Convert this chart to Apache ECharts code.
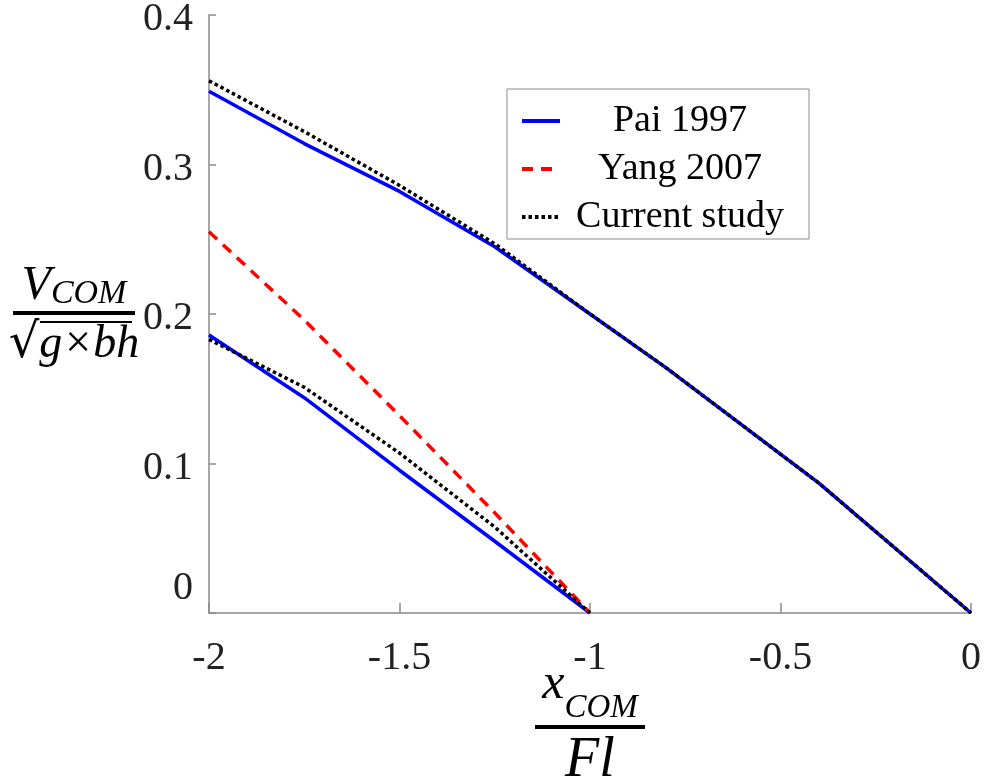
<!DOCTYPE html>
<html>
<head>
<meta charset="utf-8">
<script src="https://cdn.jsdelivr.net/npm/echarts@6/dist/echarts.min.js"></script>
<style>
  html, body { margin: 0; padding: 0; background: #fff; }
  #chart { width: 988px; height: 780px; }
</style>
</head>
<body>
<div id="chart"></div>
<script>
// upper branch (x from -2 to 0)
const xUpper = [-2, -1.75, -1.5, -1.25, -1, -0.8, -0.4, 0];
const paiUpper = [0.349, 0.314, 0.282, 0.245, 0.2, 0.164, 0.087, 0];
const currentUpper = [0.356, 0.322, 0.286, 0.247, 0.2, 0.164, 0.087, 0];

// lower branch (x from -2 to -1)
const xLower = [-2, -1.75, -1.5, -1.25, -1];
const paiLower = [0.186, 0.144, 0.0955, 0.048, 0];
const yangLower = [0.255, 0.196, 0.132, 0.067, 0];
const currentLower = [0.183, 0.151, 0.107, 0.0575, 0];

const xTicks = [-2, -1.5, -1, -0.5, 0];
const yTicks = [0, 0.1, 0.2, 0.3, 0.4];

const pairs = (xs, ys) => xs.map((x, i) => [x, ys[i]]);

const serif = 'Liberation Serif';
const mathFont = 'Liberation Serif';
const txt = '#222';

const chart = echarts.init(document.getElementById('chart'));

const blueLine = { color: '#0000ff', width: 3.5, type: 'solid' };
const redLine = { color: '#ff0000', width: 3.5, type: [11, 8] };
const blackLine = { color: '#000000', width: 3.5, type: [3.5, 3] };

const option = {
  animation: false,
  backgroundColor: '#fff',
  grid: { left: 209, right: 17, top: 15, bottom: 167, outerBoundsMode: 'none', containLabel: false },
  legend: {
    orient: 'vertical',
    left: 507,
    top: 89,
    data: ['Pai 1997', 'Yang 2007', 'Current study'],
    backgroundColor: '#fff',
    borderColor: '#8c8c8c',
    borderWidth: 1,
    padding: [13, 14, 3, 13],
    itemWidth: 38,
    itemHeight: 14,
    itemGap: 10,
    selectedMode: false,
    itemStyle: { opacity: 0 },
    lineStyle: { width: 4 },
    formatter: (name) => '{c|' + name + '}',
    textStyle: {
      fontFamily: serif,
      fontSize: 38,
      color: '#000',
      rich: {
        c: { fontFamily: serif, fontSize: 38, lineHeight: 40, width: 230, align: 'center', color: '#000' },
      },
    },
  },
  xAxis: {
    type: 'value',
    min: -2,
    max: 0,
    interval: 0.5,
    name: '{x|x}{s|COM}\n{bar| }\n{f|Fl}',
    nameLocation: 'middle',
    nameGap: 32,
    nameMoveOverlap: false,
    nameTextStyle: {
      verticalAlign: 'top',
      rich: {
        x: { fontFamily: mathFont, fontStyle: 'italic', fontSize: 50, lineHeight: 80, color: '#000', align: 'center' },
        s: { fontFamily: mathFont, fontStyle: 'italic', fontSize: 33, lineHeight: 50, verticalAlign: 'bottom', color: '#000', align: 'center' },
        bar: { width: 110, height: 4, lineHeight: 4, fontSize: 1, backgroundColor: '#000', align: 'center' },
        f: { fontFamily: mathFont, fontStyle: 'italic', fontSize: 56, lineHeight: 64, color: '#000', align: 'center' },
      },
    },
    axisLine: { show: true, onZero: false, lineStyle: { color: '#8a8a8a', width: 1.5 } },
    axisTick: { show: true, inside: true, length: 10, lineStyle: { color: '#8a8a8a', width: 1.5 } },
    splitLine: { show: false },
    axisLabel: {
      margin: 25,
      fontFamily: serif,
      fontSize: 40,
      color: txt,
      formatter: (v) => (xTicks.includes(v) ? String(v) : ''),
    },
  },
  yAxis: {
    type: 'value',
    min: 0,
    max: 0.4,
    interval: 0.1,
    name: '{v|V}{s|COM}\n{bar| }\n{sp| }{ol| }\n{r|√}{d|g×bh}',
    nameLocation: 'middle',
    nameRotate: 0,
    nameGap: 135,
    nameMoveOverlap: false,
    nameTextStyle: {
      align: 'center',
      rich: {
        v: { fontFamily: mathFont, fontStyle: 'italic', fontSize: 48, lineHeight: 50, color: '#000', align: 'center' },
        s: { fontFamily: mathFont, fontStyle: 'italic', fontSize: 34, lineHeight: 34, verticalAlign: 'bottom', color: '#000', align: 'center' },
        bar: { width: 122, height: 4, lineHeight: 4, fontSize: 1, backgroundColor: '#000', align: 'center' },
        sp: { width: 24, height: 2, lineHeight: 8, fontSize: 1, align: 'center' },
        ol: { width: 92, height: 2, lineHeight: 8, fontSize: 1, backgroundColor: '#000', verticalAlign: 'bottom', align: 'center' },
        r: { fontFamily: 'DejaVu Serif', fontSize: 48, lineHeight: 44, color: '#000', align: 'center' },
        d: { fontFamily: mathFont, fontStyle: 'italic', fontSize: 46, lineHeight: 44, color: '#000', align: 'center' },
      },
    },
    axisLine: { show: true, onZero: false, lineStyle: { color: '#8a8a8a', width: 1.5 } },
    axisTick: { show: true, inside: true, length: 7, lineStyle: { color: '#8a8a8a', width: 1.5 } },
    splitLine: { show: false },
    axisLabel: {
      margin: 16,
      fontFamily: serif,
      fontSize: 40,
      color: txt,
      formatter: (v) => {
        if (Math.abs(v) < 1e-9) return '{z|0}';
        return yTicks.find((t) => Math.abs(t - v) < 1e-9) !== undefined ? '{n|' + v.toFixed(1) + '}' : '';
      },
      rich: {
        n: { fontFamily: serif, fontSize: 40, color: txt, padding: [9, 0, 0, 0] },
        z: { fontFamily: serif, fontSize: 40, color: txt, padding: [0, 0, 50, 0] },
      },
    },
  },
  series: [
    { name: 'Pai 1997', type: 'line', symbol: 'none', data: pairs(xUpper, paiUpper), lineStyle: blueLine, itemStyle: { color: '#0000ff' } },
    { name: 'Pai 1997', type: 'line', symbol: 'none', data: pairs(xLower, paiLower), lineStyle: blueLine, itemStyle: { color: '#0000ff' } },
    { name: 'Yang 2007', type: 'line', symbol: 'none', data: pairs(xLower, yangLower), lineStyle: redLine, itemStyle: { color: '#ff0000' } },
    { name: 'Current study', type: 'line', symbol: 'none', data: pairs(xUpper, currentUpper), lineStyle: blackLine, itemStyle: { color: '#000000' } },
    { name: 'Current study', type: 'line', symbol: 'none', data: pairs(xLower, currentLower), lineStyle: blackLine, itemStyle: { color: '#000000' } },
  ],
};

chart.setOption(option);
window.addEventListener('resize', () => chart.resize());
</script>
</body>
</html>
